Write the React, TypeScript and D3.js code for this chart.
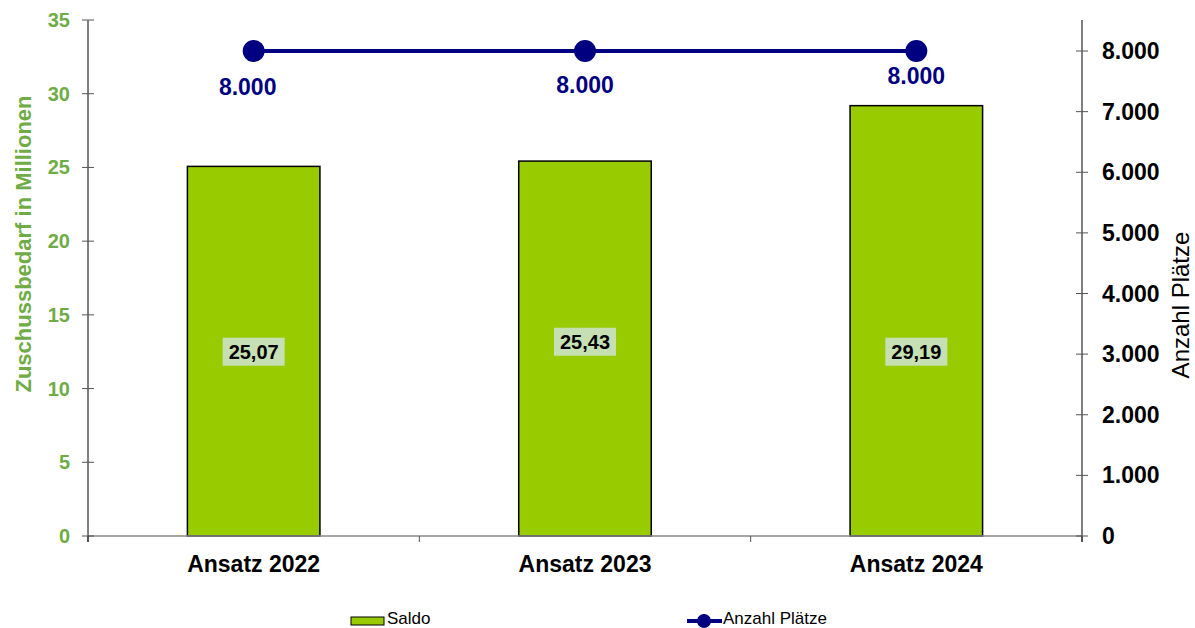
import React from "react";
import * as d3 from "d3";

const categories = ["Ansatz 2022", "Ansatz 2023", "Ansatz 2024"];
const saldo = [25.07, 25.43, 29.19];
const plaetze = [8000, 8000, 8000];
const leftTicks = [0, 5, 10, 15, 20, 25, 30, 35];
const rightTicks = [0, 1000, 2000, 3000, 4000, 5000, 6000, 7000, 8000];

const W = 1195, H = 628;
const L = 88, R = 1082, T = 20, B = 536;
const FONT = "Liberation Sans, Arial, sans-serif";
const GREEN_TXT = "#6fac46";
const NAVY = "#000080";
const BAR = "#99cc00";

const barLabelDy = [0, -10, 0];
const lineLabelDy = [0, -2, -11];

export default function App() {
  const x = d3.scaleBand<string>().domain(categories).range([L, R]).paddingInner(0).paddingOuter(0);
  const yL = d3.scaleLinear().domain([0, 35]).range([B, T]);
  const yR = d3.scaleLinear().domain([0, 8000 * (B - T) / (B - 51)]).range([B, T]);
  const bw = x.bandwidth() * 0.4;
  const fmtR = (v: number) => d3.format(",")(v).replace(/,/g, ".");
  const fmtL = (v: number) => v.toFixed(2).replace(".", ",");
  const line = d3.line<number>().x((_, i) => x(categories[i])! + x.bandwidth() / 2).y((d) => yR(d));
  const bounds = [L, ...categories.map((c) => x(c)! + x.bandwidth())];

  return (
    <svg width={W} height={H} style={{ position: "absolute", left: 0, top: 0, background: "#fff" }} fontFamily={FONT}>
      {/* bars */}
      {saldo.map((v, i) => {
        const cx = x(categories[i])! + x.bandwidth() / 2;
        return (
          <rect key={i} x={cx - bw / 2} y={yL(v)} width={bw} height={B - yL(v)} fill={BAR} stroke="#000" strokeWidth={1.5} />
        );
      })}
      {/* bar labels */}
      {saldo.map((v, i) => {
        const cx = x(categories[i])! + x.bandwidth() / 2;
        const cy = yL(12.5) + barLabelDy[i];
        return (
          <g key={i}>
            <rect x={cx - 31} y={cy - 14} width={62} height={28} fill="#c6e0b4" />
            <text x={cx} y={cy + 7} textAnchor="middle" fontSize={20} fontWeight="bold" fill="#000">{fmtL(v)}</text>
          </g>
        );
      })}
      {/* bottom axis */}
      <line x1={L} x2={R} y1={B} y2={B} stroke="#888" strokeWidth={1.5} />
      {bounds.map((b, i) => (
        <line key={i} x1={b} x2={b} y1={B} y2={B + 6} stroke="#555" strokeWidth={1} />
      ))}
      {categories.map((c, i) => (
        <text key={i} x={x(c)! + x.bandwidth() / 2} y={572} textAnchor="middle" fontSize={23} fontWeight="bold" fill="#000">{c}</text>
      ))}
      {/* left axis */}
      <line x1={L} x2={L} y1={T} y2={B + 6} stroke="#000" strokeWidth={1} />
      {leftTicks.map((t) => (
        <g key={t}>
          <line x1={L - 6} x2={L + 6} y1={yL(t)} y2={yL(t)} stroke="#555" strokeWidth={1} />
          <text x={70} y={yL(t) + 7} textAnchor="end" fontSize={20} fontWeight="bold" fill={GREEN_TXT}>{t}</text>
        </g>
      ))}
      <text transform={`translate(31,244) rotate(-90)`} textAnchor="middle" fontSize={22} fontWeight="bold" fill={GREEN_TXT}>Zuschussbedarf in Millionen</text>
      {/* right axis */}
      <line x1={R} x2={R} y1={T} y2={B + 6} stroke="#000" strokeWidth={1} />
      {rightTicks.map((t) => (
        <g key={t}>
          <line x1={R - 6} x2={R + 6} y1={yR(t)} y2={yR(t)} stroke="#555" strokeWidth={1} />
          <text x={1102} y={yR(t) + 8} textAnchor="start" fontSize={23} fontWeight="bold" fill="#000">{fmtR(t)}</text>
        </g>
      ))}
      <text transform={`translate(1189,305) rotate(-90)`} textAnchor="middle" fontSize={24} fill="#000">Anzahl Plätze</text>
      {/* line */}
      <path d={line(plaetze)!} fill="none" stroke={NAVY} strokeWidth={4} />
      {plaetze.map((v, i) => {
        const cx = x(categories[i])! + x.bandwidth() / 2;
        return <circle key={i} cx={cx} cy={yR(v)} r={11} fill={NAVY} />;
      })}
      {plaetze.map((v, i) => {
        const cx = x(categories[i])! + x.bandwidth() / 2;
        return (
          <text key={i} x={cx - (i === 0 ? 6 : 0)} y={yR(v) + 44 + lineLabelDy[i]} textAnchor="middle" fontSize={23} fontWeight="bold" fill={NAVY}>{fmtR(v)}</text>
        );
      })}
      {/* legend */}
      <rect x={351} y={617} width={33} height={8} fill={BAR} stroke="#000" strokeWidth={1} />
      <text x={387} y={624} fontSize={17} fill="#000">Saldo</text>
      <line x1={687} x2={722} y1={621} y2={621} stroke={NAVY} strokeWidth={4} />
      <circle cx={704} cy={621} r={7} fill={NAVY} />
      <text x={723} y={624} fontSize={17} fill="#000">Anzahl Plätze</text>
    </svg>
  );
}
